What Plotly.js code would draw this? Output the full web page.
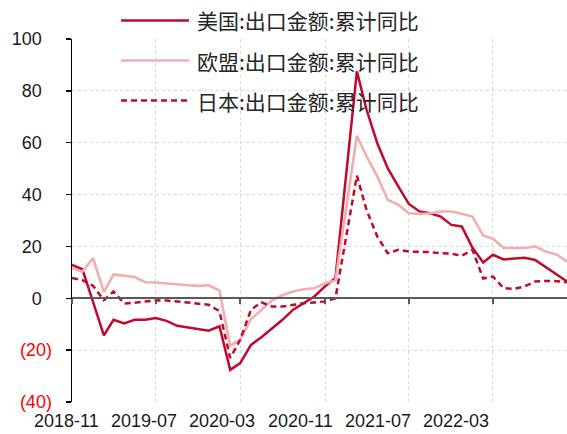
<!DOCTYPE html>
<html>
<head>
<meta charset="utf-8">
<script src="https://cdn.plot.ly/plotly-3.0.1.min.js"></script>
<style>html,body{margin:0;padding:0;background:#fff;}#chart{width:567px;height:434px;}</style>
</head>
<body>
<div id="chart"></div>
<script>
// ---- data ----
const months = [
  '2018-11','2018-12','2019-01','2019-02','2019-03','2019-04','2019-05','2019-06','2019-07','2019-08','2019-09','2019-10',
  '2019-11','2019-12','2020-01','2020-02','2020-03','2020-04','2020-05','2020-06','2020-07','2020-08','2020-09','2020-10',
  '2020-11','2020-12','2021-01','2021-02','2021-03','2021-04','2021-05','2021-06','2021-07','2021-08','2021-09','2021-10',
  '2021-11','2021-12','2022-01','2022-02','2022-03','2022-04','2022-05','2022-06','2022-07','2022-08','2022-09','2022-10'
];
const usa = [
  12.9, 11.2, -1.5, -14.3, -8.3, -9.7, -8.3, -8.3, -7.6, -8.7, -10.6, -11.3,
  -11.9, -12.5, -10.8, -27.6, -25.0, -18.0, -15.0, -11.5, -8.3, -4.4, -1.9, 0.7,
  4.6, 7.8, null, 87.5, 72.7, 59.8, 50.2, 43.1, 36.4, 33.5, 32.8, 31.5,
  28.3, 27.7, 19.5, 13.8, 16.8, 15.0, 15.2, 15.6, 14.8, 12.0, 9.0, 6.5
];
const eu = [
  11.6, 10.3, 15.5, 2.4, 9.2, 8.8, 8.2, 6.2, 6.1, 5.7, 5.2, 5.0,
  4.8, 5.0, 3.0, -18.3, -16.0, -8.0, -4.5, -0.8, 1.2, 2.6, 3.5, 3.9,
  5.8, 6.9, null, 62.7, 54.7, 47.0, 38.0, 36.0, 32.8, 32.5, 32.8, 33.5,
  33.5, 32.6, 31.5, 24.2, 23.0, 19.4, 19.4, 19.4, 20.0, 18.0, 16.8, 14.2
];
const japan = [
  7.8, 7.0, 4.8, -0.7, 2.6, -2.0, -1.7, -1.2, -0.8, -0.9, -1.2, -1.6,
  -2.1, -2.5, -5.0, -23.0, -16.0, -4.4, -1.6, -3.2, -3.2, -2.5, -1.9, -1.6,
  -1.2, 0.0, null, 47.3, 34.0, 23.8, 17.4, 18.7, 18.0, 18.0, 17.8, 17.4,
  17.2, 16.4, 18.7, 7.6, 8.4, 3.9, 3.6, 4.6, 6.5, 6.7, 6.6, 6.2
];
const seriesNames = ['美国:出口金额:累计同比', '欧盟:出口金额:累计同比', '日本:出口金额:累计同比'];
const xTickLabels = ['2018-11', '2019-07', '2020-03', '2020-11', '2021-07', '2022-03'];
const yTickVals = [-40, -20, 0, 20, 40, 60, 80, 100];
const yTickLabels = ['(40)', '(20)', '0', '20', '40', '60', '80', '100'];

// ---- styles ----
const C_US = '#BE0A2E', C_EU = '#F0AEAE', C_JP = '#BE0A2E';
const W = 567, H = 434, ML = 72, MR = 0, MT = 39, MB = 32;
const PW = W - ML - MR, PH = H - MT - MB;
const px2x = p => (p - ML) / PW;
const py2y = p => (H - MB - p) / PH;

const dates = months.map(m => m + '-01');
const tickDates = xTickLabels.map(m => m + '-01');

const traces = [
  {x: dates, y: usa, name: seriesNames[0], type: 'scatter', mode: 'lines', connectgaps: true,
   line: {color: C_US, width: 2.5}, showlegend: false, hoverinfo: 'skip'},
  {x: dates, y: eu, name: seriesNames[1], type: 'scatter', mode: 'lines', connectgaps: true,
   line: {color: C_EU, width: 2.6}, showlegend: false, hoverinfo: 'skip'},
  {x: dates, y: japan, name: seriesNames[2], type: 'scatter', mode: 'lines', connectgaps: true,
   line: {color: C_JP, width: 2.5, dash: '6px,4px'}, showlegend: false, hoverinfo: 'skip'}
];

const yText = yTickLabels.map((t, i) => yTickVals[i] < 0
  ? '<span style="color:#FF0000">' + t + '</span>'
  : t + '\u2007');

const annotations = [];
// x tick labels (placed as in the reference)
xTickLabels.forEach((t, k) => {
  annotations.push({xref: 'paper', yref: 'paper', x: px2x(66 + 78 * k), y: py2y(421),
    xanchor: 'center', yanchor: 'middle', showarrow: false, text: t,
    font: {family: 'Liberation Sans, Arial, sans-serif', size: 18, color: '#1a1a1a'}});
});
// legend
const legRows = [20.5, 60.5, 100.5];
const legStyles = [{color: C_US, width: 2.5}, {color: C_EU, width: 2.6}, {color: C_JP, width: 2.5, dash: '6px,4px'}];
const shapes = [];
seriesNames.forEach((n, i) => {
  shapes.push({type: 'line', xref: 'paper', yref: 'paper', x0: px2x(121), x1: px2x(189),
    y0: py2y(legRows[i]), y1: py2y(legRows[i]), line: legStyles[i]});
  annotations.push({xref: 'paper', yref: 'paper', x: px2x(195), y: py2y(legRows[i]),
    xanchor: 'left', yanchor: 'middle', showarrow: false, text: n,
    font: {family: 'Noto Sans CJK SC, sans-serif', size: 21, color: '#262626'}});
});

const layout = {
  width: W, height: H,
  margin: {l: ML, r: MR, t: MT, b: MB, pad: 0},
  paper_bgcolor: '#ffffff', plot_bgcolor: '#ffffff',
  showlegend: false,
  xaxis: {
    type: 'date', range: ['2018-11-01', '2022-10-01'],
    tickmode: 'array', tickvals: tickDates, showticklabels: false,
    ticks: 'outside', ticklen: 5, tickwidth: 1.5, tickcolor: '#595959',
    showline: true, linecolor: '#595959', linewidth: 2,
    anchor: 'free', position: 40 / 140,
    showgrid: true, gridcolor: '#D9D9D9', griddash: 'dot', gridwidth: 1,
    zeroline: false, fixedrange: true
  },
  yaxis: {
    range: [-40, 100], tickmode: 'array', tickvals: yTickVals, ticktext: yText,
    ticks: 'outside', ticklen: 5, tickwidth: 1.5, tickcolor: '#000000',
    showline: true, linecolor: '#000000', linewidth: 1.5,
    showgrid: true, gridcolor: '#D9D9D9', griddash: 'dot', gridwidth: 1,
    zeroline: false, ticklabelstandoff: 10,
    tickfont: {family: 'Liberation Sans, Arial, sans-serif', size: 18, color: '#1a1a1a'},
    fixedrange: true
  },
  shapes: shapes,
  annotations: annotations
};

Plotly.newPlot('chart', traces, layout, {displayModeBar: false, staticPlot: true});
</script>
</body>
</html>
